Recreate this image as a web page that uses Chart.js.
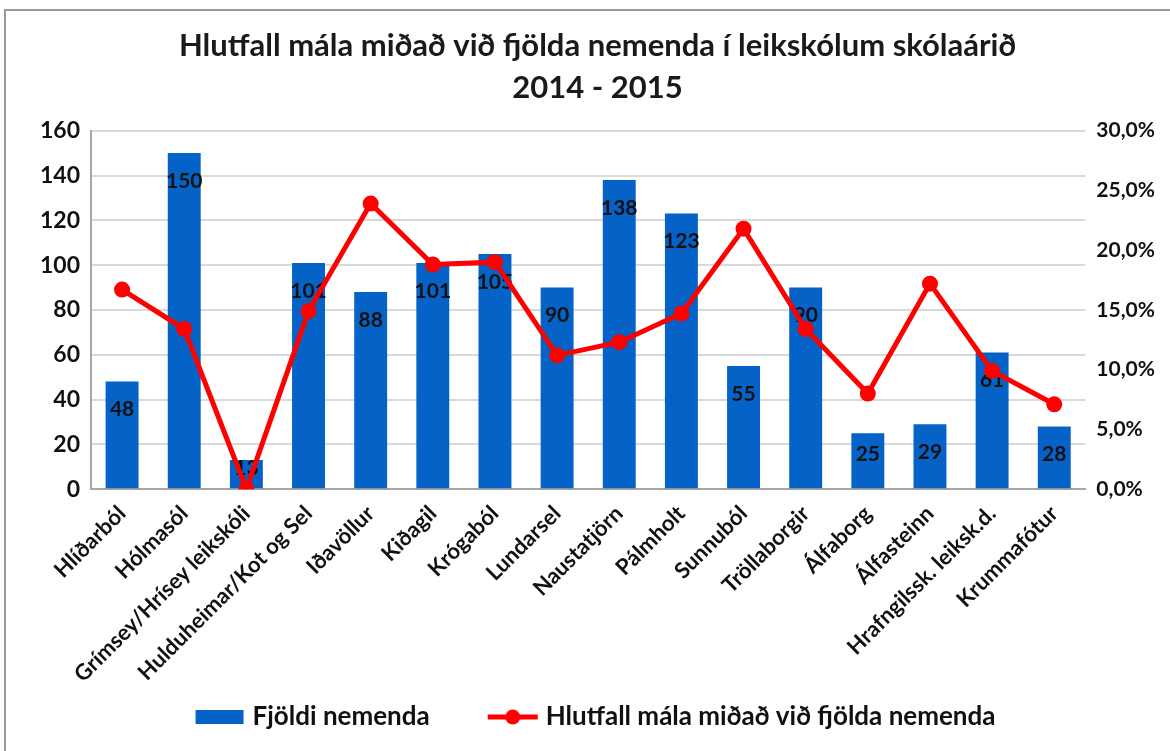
<!DOCTYPE html>
<html>
<head>
<meta charset="utf-8">
<script src="https://cdn.jsdelivr.net/npm/chart.js@4/dist/chart.umd.min.js"></script>
<style>
    body { margin: 0; background: #ffffff; }
    #frame { position: absolute; left: 4px; top: 9px; width: 1200px; height: 800px;
             border-left: 2px solid #9a9a9a; border-top: 2px solid #9a9a9a; }
    #wrap { position: absolute; left: 0; top: 0; width: 1170px; height: 751px; }
</style>
</head>
<body>
<div id="frame"></div>
<div id="wrap"><canvas id="SchoolChart"></canvas></div>
<script>
// data
const schools = [
    "Hlíðarból", "Hólmasól", "Grímsey/Hrísey leikskóli", "Hulduheimar/Kot og Sel",
    "Iðavöllur", "Kiðagil", "Krógaból", "Lundarsel", "Naustatjörn", "Pálmholt",
    "Sunnuból", "Tröllaborgir", "Álfaborg", "Álfasteinn", "Hrafngilssk. leiksk.d.", "Krummafótur"
];
const pupils = [48, 150, 13, 101, 88, 101, 105, 90, 138, 123, 55, 90, 25, 29, 61, 28];
const casePercent = [16.7, 13.4, 0.0, 14.9, 23.9, 18.8, 19.0, 11.2, 12.3, 14.7, 21.8, 13.4, 8.0, 17.2, 9.9, 7.1];

const barBlue = "#0563c8";
const lineRed = "#ff0000";

// legend icons, drawn like the excel ones
function legendIcon(kind) {
    const c = document.createElement("canvas");
    c.width = 52; c.height = 18;
    const g = c.getContext("2d");
    if (kind === "bar") {
        g.fillStyle = barBlue;
        g.fillRect(2, 2, 48, 14);
    } else if (kind === "line") {
        g.strokeStyle = lineRed;
        g.lineWidth = 5;
        g.beginPath(); g.moveTo(1, 9); g.lineTo(51, 9); g.stroke();
        g.fillStyle = lineRed;
        g.beginPath(); g.arc(26, 9, 7.5, 0, Math.PI * 2); g.fill();
    }
    return c;
}

// numbers inside the bars, a bit under the top (centred on short bars)
const barLabels = {
    id: "barLabels",
    afterDatasetDraw(chart, args) {
        if (args.index !== 0) return;
        const ctx = chart.ctx;
        ctx.save();
        ctx.font = "bold 21px Lato";
        ctx.fillStyle = "#111111";
        ctx.textAlign = "center";
        ctx.textBaseline = "middle";
        args.meta.data.forEach((bar, i) => {
            const h = bar.base - bar.y;
            const y = h < 56 ? (bar.y + bar.base) / 2 - 6 : bar.y + 28;
            ctx.fillText(String(pupils[i]), bar.x, y);
        });
        ctx.restore();
    }
};

const ctx = document.getElementById("SchoolChart").getContext("2d");
new Chart(ctx, {
    data: {
        labels: schools,
        datasets: [
            {
                type: "bar",
                label: "Fjöldi nemenda",
                data: pupils,
                backgroundColor: barBlue,
                barPercentage: 0.53,
                categoryPercentage: 1.0,
                yAxisID: "y",
                order: 2
            },
            {
                type: "line",
                label: "Hlutfall mála miðað við fjölda nemenda",
                data: casePercent,
                borderColor: lineRed,
                backgroundColor: lineRed,
                borderWidth: 5,
                pointRadius: 8,
                pointHoverRadius: 8,
                pointBackgroundColor: lineRed,
                pointBorderWidth: 0,
                tension: 0,
                yAxisID: "y1",
                order: 1
            }
        ]
    },
    plugins: [barLabels],
    options: {
        responsive: true,
        maintainAspectRatio: false,
        animation: false,
        layout: { padding: { left: 29, right: 4, top: 25, bottom: 11 } },
        plugins: {
            title: {
                display: true,
                text: ["Hlutfall mála miðað við fjölda nemenda í leikskólum skólaárið", "2014 - 2015"],
                color: "#1a1a1a",
                font: { family: "Lato", size: 31, weight: "bold", lineHeight: 1.35 },
                padding: { top: 0, bottom: 22 }
            },
            legend: {
                position: "bottom",
                labels: {
                    color: "#111111",
                    font: { family: "Lato", size: 26, weight: "bold" },
                    usePointStyle: true,
                    pointStyleWidth: 40,
                    boxHeight: 18,
                    padding: 5,
                    generateLabels(chart) {
                        const ds = chart.data.datasets;
                        const item = (text, kind, i) => ({
                            text: text,
                            pointStyle: legendIcon(kind),
                            fillStyle: "transparent",
                            strokeStyle: "transparent",
                            lineWidth: 0,
                            fontColor: "#111111",
                            datasetIndex: i
                        });
                        // empty middle entry only widens the gap between the two items
                        return [item(ds[0].label, "bar", 0), item("", "none", 0), item(ds[1].label, "line", 1)];
                    }
                },
                onClick: () => {}
            },
            tooltip: { enabled: false }
        },
        scales: {
            x: {
                grid: { display: false, drawTicks: false },
                border: { color: "#a6a6a6", width: 2 },
                ticks: {
                    color: "#111111",
                    font: { family: "Lato", size: 22, weight: "bold" },
                    maxRotation: 45,
                    minRotation: 45,
                    autoSkip: false,
                    padding: 11.5
                }
            },
            y: {
                position: "left",
                min: 0,
                max: 160,
                grid: { color: "#d9d9d9", lineWidth: 2, drawTicks: false },
                border: { color: "#a6a6a6", width: 2 },
                ticks: {
                    stepSize: 20,
                    color: "#111111",
                    font: { family: "Lato", size: 23, weight: "bold" },
                    padding: 11
                }
            },
            y1: {
                position: "right",
                min: 0,
                max: 30,
                grid: { display: false, drawTicks: false },
                border: { display: false },
                ticks: {
                    stepSize: 5,
                    color: "#111111",
                    font: { family: "Lato", size: 21, weight: "bold" },
                    padding: 11,
                    callback: (v) => v.toFixed(1).replace(".", ",") + "%"
                }
            }
        }
    }
});
</script>
</body>
</html>
